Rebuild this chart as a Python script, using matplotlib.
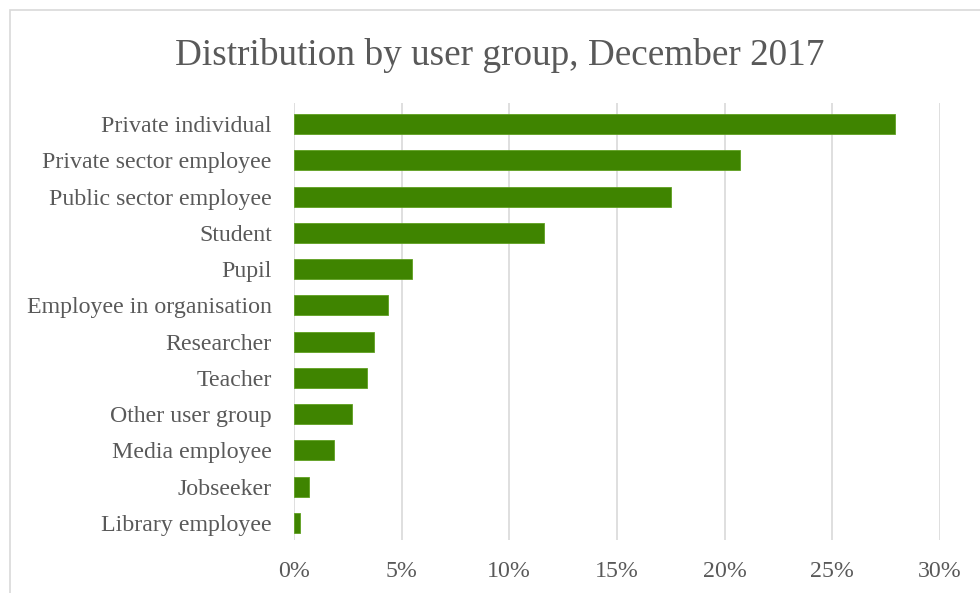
import numpy as np
import matplotlib.pyplot as plt
from matplotlib.patches import Rectangle
from matplotlib.ticker import PercentFormatter

groups = ["Private individual", "Private sector employee", "Public sector employee",
          "Student", "Pupil", "Employee in organisation", "Researcher", "Teacher",
          "Other user group", "Media employee", "Jobseeker", "Library employee"]
shares = [27.9, 20.7, 17.5, 11.6, 5.5, 4.35, 3.7, 3.4, 2.7, 1.85, 0.72, 0.28]

plt.rcParams["font.family"] = ["Liberation Serif", "DejaVu Serif"]
txt = "#595959"

fig = plt.figure(figsize=(9.8, 5.93), dpi=100)
ax = fig.add_axes([0.3, 0.0894, 0.659, 0.7369])

y = np.arange(len(groups))
ax.barh(y, shares, height=0.55, color="#3F8400", edgecolor="#5FA020", linewidth=0.6, zorder=3)
ax.set_ylim(11.47, -0.58)
ax.set_xlim(0, 30)
ax.set_xticks(np.arange(0, 31, 5))
ax.xaxis.set_major_formatter(PercentFormatter(decimals=0))
ax.set_yticks(y)
ax.set_yticklabels(groups)
ax.grid(axis="x", color="#D9D9D9", linewidth=1.2, zorder=0)
for s in ax.spines.values():
    s.set_visible(False)
ax.tick_params(length=0, labelsize=17.2, colors=txt)
ax.tick_params(axis="x", pad=15)
ax.tick_params(axis="y", pad=16)

fig.text(0.51, 0.906, "Distribution by user group, December 2017", ha="center", va="center",
         fontsize=26.8, color=txt)
fig.patches.append(Rectangle((10 / 980, -0.1), 1.2, 1 - 10 / 593 + 0.1, transform=fig.transFigure,
                             fill=False, edgecolor="#D9D9D9", linewidth=1.2))

fig.savefig("out.png", dpi=100)
